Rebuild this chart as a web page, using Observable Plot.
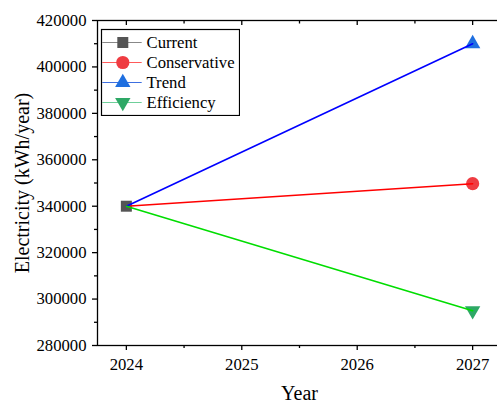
<!DOCTYPE html>
<html>
<head>
<meta charset="utf-8">
<script src="https://cdn.jsdelivr.net/npm/d3@7"></script>
<script src="https://cdn.jsdelivr.net/npm/@observablehq/plot@0.6"></script>
<style>
  html, body { margin: 0; padding: 0; background: #fff; overflow: hidden; }
  #wrap { position: relative; width: 497px; height: 401px; overflow: hidden; }
  #legend { position: absolute; left: 100px; top: 28px; }
  #wrap svg { max-width: none !important; height: auto; display: block; }
  #wrap svg, #wrap svg text { font-family: 'Liberation Serif', 'Times New Roman', serif !important; }
</style>
</head>
<body>
<div id="wrap"><div id="chart"></div><div id="legend"></div></div>
<script>
// ---- data ----
const years = [2024, 2027];
const seriesNames = ["Current", "Conservative", "Trend", "Efficiency"];
const currentValues = [340000];
const conservativeValues = [340000, 349700];
const trendValues = [340000, 410000];
const efficiencyValues = [340000, 295000];
const yTickValues = [280000, 300000, 320000, 340000, 360000, 380000, 400000, 420000];
const yMinorTicks = [290000, 310000, 330000, 350000, 370000, 390000, 410000];
const xTickValues = [2024, 2025, 2026, 2027];
const xMinorTicks = [2024.5, 2025.5, 2026.5];
const xLabel = "Year";
const yLabel = "Electricity (kWh/year)";

// ---- styles ----
const lineColors = {Current: "#555555", Conservative: "#ff0000", Trend: "#0000ff", Efficiency: "#00dd00"};
const markerColors = {Current: "#555555", Conservative: "#ef3c42", Trend: "#1f6fe0", Efficiency: "#2ea866"};
const legendLineColors = {Current: "#888888", Conservative: "#ff5a5a", Trend: "#3d6fe0", Efficiency: "#6fcf9a"};
const symbols = {Current: "square", Conservative: "circle", Trend: "triangle", Efficiency: "triangle"};
const rotations = {Current: 0, Conservative: 0, Trend: 0, Efficiency: 180};
const radii = {Current: 6.2, Conservative: 6.6, Trend: 5.7, Efficiency: 5.7};

const valuesBySeries = {Current: currentValues, Conservative: conservativeValues, Trend: trendValues, Efficiency: efficiencyValues};
const rows = seriesNames.flatMap(s => valuesBySeries[s].map((v, i) => ({series: s, year: years[i], value: v})));
const lastPoints = seriesNames.map(s => {
  const vals = valuesBySeries[s];
  return {series: s, year: years[vals.length - 1], value: vals[vals.length - 1]};
});

const font = "'Liberation Serif', 'Times New Roman', serif";
const fs = 16.7;
const blank = () => "";

const chart = Plot.plot({
  width: 502,
  height: 401,
  marginLeft: 97,
  marginRight: 1,
  marginTop: 20,
  marginBottom: 56,
  style: {fontFamily: font, fontSize: fs + "px", color: "#000", background: "transparent", maxWidth: "none"},
  x: {domain: [2023.75, 2027.25]},
  y: {domain: [280000, 420000]},
  r: {type: "identity"},
  color: {type: "identity"},
  marks: [
    // markers (drawn under lines)
    Plot.dot(lastPoints, {x: "year", y: "value", symbol: d => symbols[d.series], r: d => radii[d.series],
      fill: d => markerColors[d.series], rotate: d => rotations[d.series], stroke: "none"}),
    Plot.line(rows, {x: "year", y: "value", z: "series", stroke: d => lineColors[d.series], strokeWidth: 1.6}),
    // axes
    Plot.axisX(xTickValues, {anchor: "bottom", tickSize: 5, tickPadding: 8, tickFormat: "d", label: null, strokeWidth: 1.3, fontSize: fs}),
    Plot.axisX(xMinorTicks, {anchor: "bottom", tickSize: 3, tickFormat: blank, label: null, strokeWidth: 1.3}),
    Plot.axisX(xTickValues, {anchor: "top", tickSize: -4, tickFormat: blank, label: null, strokeWidth: 1.3}),
    Plot.axisX(xMinorTicks, {anchor: "top", tickSize: -2.5, tickFormat: blank, label: null, strokeWidth: 1.3}),
    Plot.axisY(yTickValues, {anchor: "left", tickSize: 5, tickPadding: 6, tickFormat: "d", label: null, strokeWidth: 1.3, fontSize: fs}),
    Plot.axisY(yMinorTicks, {anchor: "left", tickSize: 3, tickFormat: blank, label: null, strokeWidth: 1.3}),
    Plot.axisY(yTickValues, {anchor: "right", tickSize: -4, tickFormat: blank, label: null, strokeWidth: 1.3}),
    Plot.axisY(yMinorTicks, {anchor: "right", tickSize: -2.5, tickFormat: blank, label: null, strokeWidth: 1.3}),
    Plot.axisX([], {anchor: "bottom", label: xLabel, labelAnchor: "center", labelOffset: 54, labelArrow: "none", fontSize: 20}),
    Plot.axisY([], {anchor: "left", label: yLabel, labelAnchor: "center", labelOffset: 83, labelArrow: "none", fontSize: 20}),
    Plot.frame({stroke: "#000", strokeWidth: 1.3})
  ]
});
document.getElementById("chart").appendChild(chart);

// ---- legend (separate small Plot overlaid on the chart) ----
const legend = Plot.plot({
  width: 140,
  height: 88,
  margin: 1,
  style: {fontFamily: font, fontSize: fs + "px", color: "#000", background: "#fff"},
  x: {domain: [0, 138], range: [1, 139], axis: null},
  y: {type: "point", domain: seriesNames, range: [12.7, 75.3], padding: 0, axis: null},
  r: {type: "identity"},
  color: {type: "identity"},
  marks: [
    Plot.ruleY(seriesNames, {y: d => d, x1: 1.3, x2: 40.7, stroke: d => legendLineColors[d], strokeWidth: 1}),
    Plot.dot(seriesNames, {x: 21.3, y: d => d, symbol: d => symbols[d], r: d => radii[d],
      fill: d => markerColors[d], rotate: d => rotations[d], stroke: "none"}),
    Plot.text(seriesNames, {x: 45, y: d => d, text: d => d, textAnchor: "start", fill: "#000", fontSize: fs}),
    Plot.frame({stroke: "#000", strokeWidth: 1.2})
  ]
});
document.getElementById("legend").appendChild(legend);
</script>
</body>
</html>
